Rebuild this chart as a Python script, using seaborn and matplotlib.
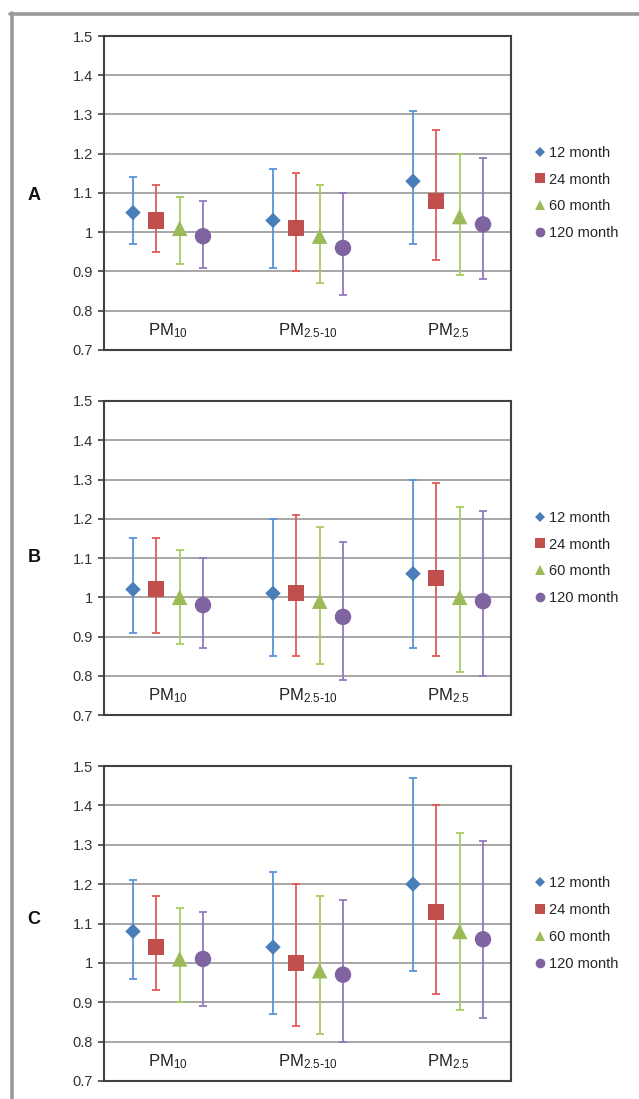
import numpy as np
import pandas as pd
import matplotlib
matplotlib.use("Agg")
import matplotlib.pyplot as plt
from matplotlib.lines import Line2D
import seaborn as sns

# ---------------- data ----------------
categories = [r"PM$_{10}$", r"PM$_{2.5\text{-}10}$", r"PM$_{2.5}$"]
series = ["12 month", "24 month", "60 month", "120 month"]
panels = ["A", "B", "C"]
ytick_values = [0.7, 0.8, 0.9, 1.0, 1.1, 1.2, 1.3, 1.4, 1.5]
ytick_labels = ["0.7", "0.8", "0.9", "1", "1.1", "1.2", "1.3", "1.4", "1.5"]

# rows = series (12, 24, 60, 120 month); columns = PM10, PM2.5-10, PM2.5
A_est = [[1.05, 1.03, 1.13], [1.03, 1.01, 1.08], [1.01, 0.99, 1.04], [0.99, 0.96, 1.02]]
A_lo  = [[0.97, 0.91, 0.97], [0.95, 0.90, 0.93], [0.92, 0.87, 0.89], [0.91, 0.84, 0.88]]
A_hi  = [[1.14, 1.16, 1.31], [1.12, 1.15, 1.26], [1.09, 1.12, 1.20], [1.08, 1.10, 1.19]]

B_est = [[1.02, 1.01, 1.06], [1.02, 1.01, 1.05], [1.00, 0.99, 1.00], [0.98, 0.95, 0.99]]
B_lo  = [[0.91, 0.85, 0.87], [0.91, 0.85, 0.85], [0.88, 0.83, 0.81], [0.87, 0.79, 0.80]]
B_hi  = [[1.15, 1.20, 1.30], [1.15, 1.21, 1.29], [1.12, 1.18, 1.23], [1.10, 1.14, 1.22]]

C_est = [[1.08, 1.04, 1.20], [1.04, 1.00, 1.13], [1.01, 0.98, 1.08], [1.01, 0.97, 1.06]]
C_lo  = [[0.96, 0.87, 0.98], [0.93, 0.84, 0.92], [0.90, 0.82, 0.88], [0.89, 0.80, 0.86]]
C_hi  = [[1.21, 1.23, 1.47], [1.17, 1.20, 1.40], [1.14, 1.17, 1.33], [1.13, 1.16, 1.31]]

panel_data = {"A": (A_est, A_lo, A_hi), "B": (B_est, B_lo, B_hi), "C": (C_est, C_lo, C_hi)}

# ---------------- style ----------------
sns.set_theme(style="white")
plt.rcParams["font.family"] = ["Liberation Sans", "DejaVu Sans"]
plt.rcParams["mathtext.default"] = "regular"

marker_colors = {"12 month": "#4A7EBB", "24 month": "#C0504D", "60 month": "#9BBB59", "120 month": "#8064A2"}
bar_colors = {"12 month": "#5B93D8", "24 month": "#E05A57", "60 month": "#A6CC62", "120 month": "#9478BE"}
markers = {"12 month": "D", "24 month": "s", "60 month": "^", "120 month": "o"}
msizes = {"12 month": 62, "24 month": 135, "60 month": 125, "120 month": 140}
leg_ms = {"12 month": 5.0, "24 month": 7.0, "60 month": 7.0, "120 month": 7.0}
offsets = [-0.25, -1 / 12, 1 / 12, 0.25]

W, H = 639, 1099
fig = plt.figure(figsize=(W / 100, H / 100), dpi=100)

axes_px = {"A": (36, 350), "B": (401, 715), "C": (766, 1081)}
letter_y = {"A": 196, "B": 557, "C": 919}
left_px, right_px = 104, 511

for p in panels:
    top, bot = axes_px[p]
    ax = fig.add_axes([left_px / W, 1 - bot / H, (right_px - left_px) / W, (bot - top) / H])
    est, lo, hi = panel_data[p]
    rows = []
    for si, s in enumerate(series):
        for ci, c in enumerate(categories):
            rows.append({"series": s, "cat": c, "x": ci + 1 + offsets[si],
                         "est": est[si][ci], "lo": lo[si][ci], "hi": hi[si][ci]})
    df = pd.DataFrame(rows)

    for s in series:
        d = df[df["series"] == s]
        ax.errorbar(d["x"], d["est"], yerr=[d["est"] - d["lo"], d["hi"] - d["est"]],
                    fmt="none", ecolor=bar_colors[s], elinewidth=1.3, capsize=3.2,
                    capthick=1.3, zorder=3)
        sns.scatterplot(data=d, x="x", y="est", marker=markers[s], color=marker_colors[s],
                        s=msizes[s], edgecolor="none", linewidth=0, ax=ax, legend=False, zorder=4)

    ax.set_xlim(0.543, 3.45)
    ax.set_ylim(0.7, 1.5)
    ax.set_yticks(ytick_values)
    ax.set_yticklabels(ytick_labels)
    ax.set_xticks([])
    ax.set_xlabel("")
    ax.set_ylabel("")
    ax.set_axisbelow(True)
    ax.yaxis.grid(True, color="#A6A6A6", linewidth=1.4)
    ax.tick_params(axis="y", left=True, length=4, width=1.2, color="#404040",
                   direction="out", pad=4, labelsize=10.5, labelcolor="#333333")
    for sp in ax.spines.values():
        sp.set_color("#404040")
        sp.set_linewidth(1.5)

    for ci, c in enumerate(categories):
        ax.text(ci + 1, 0.75, c, ha="center", va="center", fontsize=12, color="#222222")

    handles = [Line2D([], [], linestyle="none", marker=markers[s], color=marker_colors[s],
                      markersize=leg_ms[s], markeredgewidth=0) for s in series]
    ax.legend(handles, series, loc="center left", bbox_to_anchor=(1.058, 0.5),
              frameon=False, fontsize=10.5, handlelength=0.8, handletextpad=0.2,
              labelspacing=0.88, borderpad=0, borderaxespad=0)

    fig.text(34 / W, 1 - letter_y[p] / H, p, ha="center", va="center",
             fontsize=13, fontweight="bold", color="#111111")

# outer grey frame (top and left edges)
fig.add_artist(Line2D([10 / W, 1], [1 - 13.5 / H, 1 - 13.5 / H], transform=fig.transFigure,
                      color="#9A9A9A", linewidth=2.6))
fig.add_artist(Line2D([11.5 / W, 11.5 / W], [0, 1 - 12.5 / H], transform=fig.transFigure,
                      color="#9A9A9A", linewidth=2.6))

fig.savefig("out.png", dpi=100)
